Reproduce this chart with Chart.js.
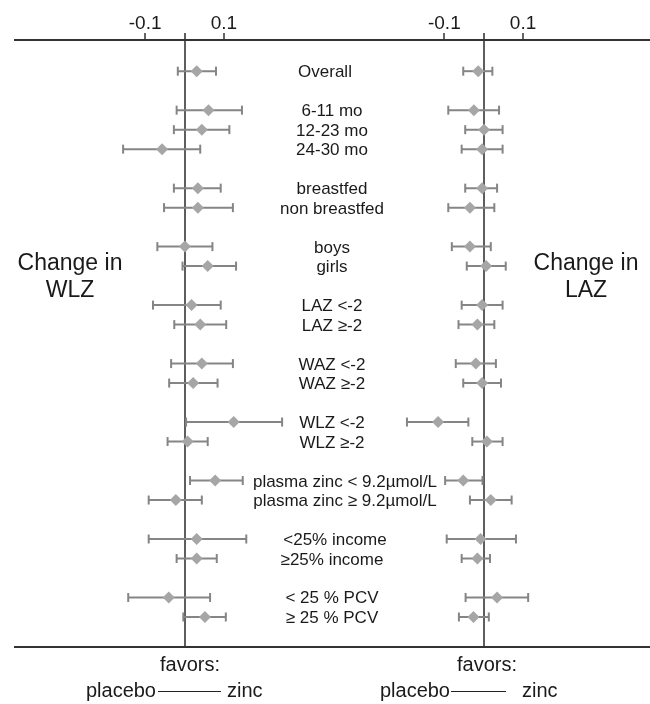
<!DOCTYPE html>
<html>
<head>
<meta charset="utf-8">
<script src="https://cdn.jsdelivr.net/npm/chart.js@4/dist/chart.umd.min.js"></script>
<style>
html,body{margin:0;padding:0;background:#fff;}
#wrap{position:relative;width:650px;height:704px;overflow:hidden;font-family:"Liberation Sans",Arial,Helvetica,sans-serif;color:#1a1a1a;}
#c{position:absolute;left:0;top:0;}
.lbl{position:absolute;white-space:nowrap;transform:translate(-50%,-50%);font-size:17px;line-height:20px;}
.big{position:absolute;white-space:nowrap;font-size:23px;line-height:27px;text-align:center;transform:translate(-50%,-50%);}
.fav{position:absolute;white-space:nowrap;font-size:20px;line-height:22px;transform:translate(-50%,-50%);}
.pz{position:absolute;white-space:nowrap;font-size:20px;line-height:22px;transform:translateY(-50%);}
.dash{position:absolute;height:0;border-top:1.5px solid #222;}
</style>
</head>
<body>
<div id="wrap">
<canvas id="c" width="650" height="704"></canvas>
</div>
<script>
// ---------------- data ----------------
const categories = [
  'Overall',
  '6-11 mo', '12-23 mo', '24-30 mo',
  'breastfed', 'non breastfed',
  'boys', 'girls',
  'LAZ <-2', 'LAZ \u2265-2',
  'WAZ <-2', 'WAZ \u2265-2',
  'WLZ <-2', 'WLZ \u2265-2',
  'plasma zinc < 9.2\u00B5mol/L', 'plasma zinc \u2265 9.2\u00B5mol/L',
  '<25% income', '\u226525% income',
  '< 25 % PCV', '\u2265 25 % PCV'
];
// row slot of each category (gaps separate the subgroups)
const rowPositions = [0, 2, 3, 4, 6, 7, 9, 10, 12, 13, 15, 16, 18, 19, 21, 22, 24, 25, 27, 28];

// Change in WLZ (left panel)
const wlzEst  = [0.031, 0.061, 0.044, -0.057, 0.034, 0.034, 0.001, 0.059, 0.018, 0.040, 0.044, 0.022, 0.125, 0.008, 0.078, -0.022, 0.031, 0.031, -0.040, 0.052];
const wlzLow  = [-0.017, -0.020, -0.027, -0.156, -0.027, -0.052, -0.069, -0.005, -0.080, -0.026, -0.034, -0.039, 0.004, -0.043, 0.014, -0.091, -0.091, -0.020, -0.143, -0.003];
const wlzHigh = [0.080, 0.146, 0.114, 0.040, 0.092, 0.123, 0.071, 0.131, 0.092, 0.106, 0.123, 0.084, 0.248, 0.059, 0.148, 0.044, 0.157, 0.082, 0.065, 0.105];

// Change in LAZ (right panel)
const lazEst  = [-0.014, -0.025, 0.001, -0.004, -0.004, -0.035, -0.035, 0.006, -0.004, -0.016, -0.020, -0.004, -0.116, 0.008, -0.052, 0.018, -0.008, -0.016, 0.034, -0.026];
const lazLow  = [-0.052, -0.090, -0.047, -0.056, -0.047, -0.090, -0.081, -0.043, -0.056, -0.064, -0.071, -0.052, -0.195, -0.029, -0.098, -0.035, -0.094, -0.056, -0.046, -0.063];
const lazHigh = [0.022, 0.039, 0.048, 0.048, 0.034, 0.027, 0.018, 0.056, 0.048, 0.027, 0.031, 0.044, -0.039, 0.048, -0.003, 0.071, 0.082, 0.016, 0.113, 0.013];

const tickValues = [-0.1, 0, 0.1];
const tickLabels = ['-0.1', '', '0.1'];
const panelTitles = [['Change in', 'WLZ'], ['Change in', 'LAZ']];
const favorsText = ['favors:', 'placebo', 'zinc'];

// ---------------- layout ----------------
const PX_PER_UNIT = 393.5, ZERO_LEFT = 184.5, ZERO_RIGHT = 483.7, AREA_LEFT = 15;
const rightOffset = (ZERO_RIGHT - ZERO_LEFT) / PX_PER_UNIT;
const LABEL_X = 332;
const labelShift = {0: -7, 14: 13, 15: 13, 16: 3};

const panels = [
  {est: wlzEst, lo: wlzLow, hi: wlzHigh, off: 0},
  {est: lazEst, lo: lazLow, hi: lazHigh, off: rightOffset}
];

const DIAMOND = '#a6a6a6', BAR = '#858585';
const datasets = [];
panels.forEach(p => {
  datasets.push({
    data: p.est.map((v, i) => ({x: v + p.off, y: rowPositions[i]})),
    pointStyle: 'rectRot', pointRadius: 6, pointHoverRadius: 6,
    backgroundColor: DIAMOND, borderWidth: 0, pointBorderWidth: 0, order: 0
  });
});
panels.forEach(p => {
  p.lo.forEach((lo, i) => {
    datasets.push({
      data: [{x: lo + p.off, y: rowPositions[i]}, {x: p.hi[i] + p.off, y: rowPositions[i]}],
      showLine: true, borderColor: BAR, borderWidth: 2,
      pointStyle: 'line', rotation: 90, pointRadius: 4.5, pointHoverRadius: 4.5,
      pointBorderColor: BAR, pointBorderWidth: 2, order: 1
    });
  });
});

const allTicks = [].concat(tickValues, tickValues.map(v => v + rightOffset));
const allLabels = [].concat(tickLabels, tickLabels);

Chart.defaults.font.family = '"Liberation Sans", Arial, Helvetica, sans-serif';
Chart.defaults.color = '#1a1a1a';

const chart = new Chart(document.getElementById('c'), {
  type: 'scatter',
  data: {datasets},
  options: {
    responsive: false,
    animation: false,
    events: [],
    layout: {autoPadding: false, padding: {left: AREA_LEFT, right: 0, top: 0, bottom: 0}},
    plugins: {legend: {display: false}, tooltip: {enabled: false}},
    scales: {
      x: {
        type: 'linear', position: 'top', min: -0.43, max: 1.18, bounds: 'data',
        afterBuildTicks: s => { s.ticks = allTicks.map(v => ({value: v})); },
        afterFit: s => { s.height = 40; },
        ticks: {
          autoSkip: false, maxRotation: 0, padding: -2,
          font: {size: 19}, color: '#1a1a1a',
          callback: (v, i) => allLabels[i]
        },
        grid: {
          drawOnChartArea: true, drawTicks: true, tickLength: 7,
          color: ctx => (ctx.index % 3 === 1 ? '#5e5e5e' : 'rgba(0,0,0,0)'),
          lineWidth: 2,
          tickColor: ctx => (ctx.index % 3 === 1 ? '#5e5e5e' : '#333'),
          tickWidth: ctx => (ctx.index % 3 === 1 ? 2 : 1.5)
        },
        border: {display: true, color: '#333', width: 2}
      },
      xb: {
        type: 'linear', position: 'bottom', min: 0, max: 1,
        afterFit: s => { s.height = 57; },
        ticks: {display: false},
        grid: {display: false, drawTicks: false},
        border: {display: true, color: '#333', width: 2}
      },
      y: {
        type: 'linear', reverse: true, min: -1.6, max: 29.54, display: false
      }
    }
  }
});

// fit the x range so the zero lines land where the reference has them
const ca = chart.chartArea;
chart.options.scales.x.min = -(ZERO_LEFT - ca.left) / PX_PER_UNIT;
chart.options.scales.x.max = (ca.right - ZERO_LEFT) / PX_PER_UNIT;
chart.update('none');

// ---------------- text overlays ----------------
const wrap = document.getElementById('wrap');
function add(cls, text, x, y) {
  const d = document.createElement('div');
  d.className = cls; d.textContent = text;
  d.style.left = x + 'px'; d.style.top = y + 'px';
  wrap.appendChild(d); return d;
}
const ys = chart.scales.y;
categories.forEach((c, i) => {
  add('lbl', c, LABEL_X + (labelShift[i] || 0), ys.getPixelForValue(rowPositions[i]) + 1);
});
// panel titles
const t1 = add('big', '', 70, 276); t1.innerHTML = panelTitles[0][0] + '<br>' + panelTitles[0][1];
const t2 = add('big', '', 586, 276); t2.innerHTML = panelTitles[1][0] + '<br>' + panelTitles[1][1];

// favors legends below each panel
[{fx: 190, px: 156, l0: 158, l1: 221, zx: 227}, {fx: 487, px: 450, l0: 451, l1: 506, zx: 522}].forEach(f => {
  add('fav', favorsText[0], f.fx, 664);
  const p = add('pz', favorsText[1], 0, 690);
  p.style.left = 'auto'; p.style.right = (650 - f.px) + 'px';
  add('pz', favorsText[2], f.zx, 690);
  const d = document.createElement('div'); d.className = 'dash';
  d.style.left = f.l0 + 'px'; d.style.width = (f.l1 - f.l0) + 'px'; d.style.top = '691px';
  wrap.appendChild(d);
});
</script>
</body>
</html>
